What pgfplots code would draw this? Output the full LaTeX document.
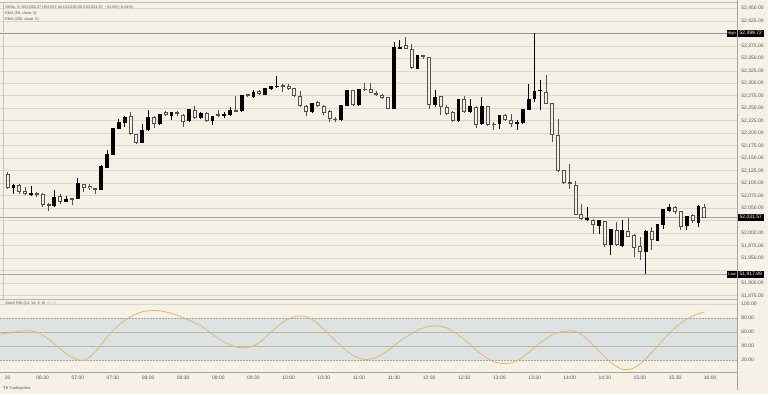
\documentclass[border=0pt]{standalone}
\usepackage{fontspec}
\setmainfont{Liberation Sans}
\usepackage{pgfplots}
\pgfplotsset{compat=1.18}
\usepackage{pgfplotstable}
\definecolor{bg}{HTML}{F5F1E6}
\definecolor{gridc}{HTML}{DDD7CA}
\definecolor{bear}{HTML}{505050}
\definecolor{band}{HTML}{DDE3E2}
\definecolor{rsic}{HTML}{E3B56C}
\definecolor{txt}{HTML}{555555}
\definecolor{frame}{HTML}{A8A49A}

% rising candles (close >= open), drawn filled black
\pgfplotstableread{
i o h l c
1 52091 52098 52079 52096
4 52077 52094 52075 52080
8 52054 52087 52053 52071
10 52063 52075 52062 52068
12 52069 52111 52068 52099
16 52087 52136 52086 52133
17 52131 52166 52130 52157
18 52157 52211 52156 52209
19 52209 52229 52208 52221
20 52221 52234 52213 52231
23 52181 52219 52180 52205
24 52206 52247 52205 52231
26 52218 52239 52217 52238
28 52235 52243 52226 52241
31 52225 52249 52223 52247
33 52231 52242 52229 52239
35 52225 52235 52216 52234
37 52234 52243 52230 52237
38 52236 52253 52235 52246
40 52244 52277 52243 52276
42 52273 52286 52271 52281
44 52277 52291 52276 52289
45 52289 52295 52287 52293
46 52292 52315 52290 52294
52 52243 52261 52241 52259
57 52226 52257 52225 52256
58 52255 52287 52254 52286
60 52256 52288 52254 52287
66 52249 52383 52248 52371
67 52369 52386 52368 52371
70 52329 52356 52328 52355
73 52256 52286 52253 52271
77 52225 52269 52223 52268
79 52243 52268 52241 52253
81 52218 52273 52217 52253
84 52219 52237 52209 52236
87 52219 52227 52206 52222
88 52221 52248 52219 52247
89 52247 52299 52246 52267
90 52268 52399.72 52263 52284
91 52284 52306 52247 52286
99 52026 52053 52025 52029
101 52015 52026 51999 52025
103 51976 52009 51956 52007
105 51975 52026 51973 52006
109 51963 52006 51917.89 52004
111 51985 52019 51984 52018
112 52017 52049 52009 52047
113 52045 52059 52042 52051
116 52014 52035 52006 52033
118 52021 52056 52013 52052.65
}\bull

% falling candles (close < open), drawn hollow
\pgfplotstableread{
i o h l c
0 52118 52123 52089 52091
2 52095 52098 52079 52083
3 52084 52093 52077 52078
5 52079 52083 52073 52077
6 52077 52081 52053 52056
7 52057 52061 52045 52055
9 52073 52079 52059 52063
11 52069 52070 52056 52067
13 52098 52099 52083 52091
14 52094 52098 52086 52090
15 52089 52091 52078 52087
21 52234 52243 52197 52198
22 52197 52199 52179 52181
25 52231 52235 52211 52218
27 52241 52245 52234 52236
29 52241 52245 52235 52239
30 52236 52239 52213 52223
32 52246 52254 52229 52231
34 52239 52242 52223 52225
36 52237 52246 52233 52235
39 52245 52274 52242 52243
41 52277 52279 52273 52275
43 52283 52287 52276 52278
47 52296 52299 52283 52293
48 52294 52299 52286 52288
49 52289 52291 52273 52274
50 52274 52285 52253 52254
51 52254 52256 52234 52243
53 52261 52265 52252 52254
54 52254 52257 52236 52241
55 52243 52246 52223 52229
56 52228 52233 52223 52226
59 52286 52287 52254 52256
61 52288 52301 52284 52286
62 52288 52300 52280 52281
63 52280 52284 52275 52277
64 52276 52279 52269 52271
65 52271 52273 52248 52249
68 52375 52393 52368 52369
69 52368 52379 52329 52331
71 52355 52357 52349 52352
72 52351 52353 52248 52256
74 52273 52275 52236 52253
75 52251 52256 52236 52239
76 52242 52245 52222 52225
78 52268 52275 52241 52243
80 52251 52254 52211 52216
82 52253 52255 52215 52216
83 52218 52223 52206 52216
85 52236 52239 52224 52226
86 52226 52239 52213 52219
92 52281 52317 52258 52259
93 52259 52261 52183 52196
94 52196 52229 52123 52125
95 52125 52127 52099 52101
96 52101 52139 52089 52099
97 52095 52104 52036 52037
98 52037 52059 52026 52028
100 52026 52028 51999 52016
102 52023 52025 51973 51976
104 52006 52023 51974 51976
106 52004 52031 51992 51993
107 51996 51998 51953 51971
108 51973 51993 51946 51963
110 52004 52013 51966 51987
114 52051 52054 52039 52043
115 52043 52045 52006 52013
117 52035 52039 52021 52025
119 52052.27 52057.44 52030.20 52031.57
}\bear

\pgfplotsset{
  panel/.style={
    scale only axis, width=737pt,
    xmin=-1.246, xmax=124.58,
    axis line style={draw=none},
    major tick length=0pt,
    yticklabel pos=right,
    scaled y ticks=false,
    tick label style={font=\fontsize{5}{6}\selectfont, text=txt},
    yticklabel style={anchor=west, xshift=0.8pt,
      /pgf/number format/fixed, /pgf/number format/fixed zerofill,
      /pgf/number format/precision=2, /pgf/number format/1000 sep={,}},
    /pgf/number format/assume math mode=true,
    clip mode=individual,
  },
  vbar/.style 2 args={draw=none, mark=none, forget plot,
    error bars/.cd, y dir=plus, y explicit, error mark=none,
    error bar style={line width=#2, draw=#1, solid, line cap=butt},
    /pgfplots/.cd},
}

\begin{document}
\begin{tikzpicture}[x=1pt,y=1pt]
\fill[bg] (0,-95) rectangle (768,299);

% ---------- price panel ----------
\begin{axis}[panel, name=main, height=299pt,
  ymin=51868, ymax=52466,
  xtick=\empty,
  ytick={51875,51900,51950,51975,52000,52050,52075,52100,52125,52150,52175,52200,52225,52250,52275,52300,52325,52350,52375,52425,52450},
  extra y ticks={51925,52025,52400}, extra y tick labels={},
  extra y tick style={grid=major},
  ymajorgrids, grid style={gridc, line width=0.45pt},
]
% reference lines: high, last, low
\addplot[frame!90!black, line width=0.5pt, forget plot] coordinates {(-1.246,52399.72) (124.58,52399.72)};
\addplot[frame, line width=0.5pt, forget plot] coordinates {(-1.246,52031.57) (124.58,52031.57)};
\addplot[frame, line width=0.5pt, forget plot] coordinates {(-1.246,51917.89) (124.58,51917.89)};

% wicks
\addplot[vbar={black}{0.8pt}]
  table[x=i, y=l, y error expr=\thisrow{h}-\thisrow{l}] {\bull};
\addplot[vbar={bear}{0.85pt}]
  table[x=i, y=l, y error expr=\thisrow{h}-\thisrow{l}] {\bear};
% rising bodies (filled)
\addplot[vbar={black}{3.8pt}]
  table[x=i, y=o, y error expr={\thisrow{c}-\thisrow{o}+1}] {\bull};
% falling bodies (hollow)
\addplot[vbar={bear}{4pt}]
  table[x=i, y expr={\thisrow{c}-0.5}, y error expr={\thisrow{o}-\thisrow{c}+1}] {\bear};
\addplot[vbar={bg}{2pt}]
  table[x=i, y expr={\thisrow{c}+1.5}, y error expr={max(\thisrow{o}-\thisrow{c}-3,0)}] {\bear};

% price tags
\node[fill=black, text=white, font=\fontsize{5}{6}\selectfont, inner xsep=2.4pt, inner ysep=1.4pt, anchor=west] at (axis cs:124.58,52399.72) {52,399.72};
\node[fill=black, text=white, font=\fontsize{4}{5}\selectfont, inner xsep=1pt, inner ysep=1.9pt, anchor=east] at (axis cs:124.58,52399.72) {High};
\node[fill=black, text=white, font=\fontsize{5}{6}\selectfont, inner xsep=2.4pt, inner ysep=1.4pt, anchor=west] at (axis cs:124.58,52031.57) {52,031.57};
\node[fill=black, text=white, font=\fontsize{5}{6}\selectfont, inner xsep=2.4pt, inner ysep=1.4pt, anchor=west] at (axis cs:124.58,51917.89) {51,917.89};
\node[fill=black, text=white, font=\fontsize{4}{5}\selectfont, inner xsep=1pt, inner ysep=1.9pt, anchor=east] at (axis cs:124.58,51917.89) {Low};
\end{axis}

% ---------- Stoch RSI panel ----------
\begin{axis}[panel, at={(0pt,-74pt)}, anchor=south west, height=73pt,
  ymin=1.43, ymax=105.7,
  ytick={20,40,60,80,100},
  xtick={0,6,...,120},
  xticklabels={20,06:30,07:00,07:30,08:00,08:30,09:00,09:30,10:00,10:30,11:00,11:30,12:00,12:30,13:00,13:30,14:00,14:30,15:00,15:30,16:00},
  xticklabel style={yshift=0.3pt},
]
\addplot[fill=band, draw=none, forget plot] coordinates {(-1.246,20) (124.58,20) (124.58,80) (-1.246,80) (-1.246,20)};
\addplot[gridc, line width=0.45pt, forget plot] coordinates {(-1.246,100) (124.58,100)};
\addplot[gridc!85!black, line width=0.4pt, forget plot] coordinates {(-1.246,60) (124.58,60)};
\addplot[gridc!85!black, line width=0.4pt, forget plot] coordinates {(-1.246,40) (124.58,40)};
\addplot[frame, line width=0.45pt, dash pattern=on 2pt off 1pt, forget plot] coordinates {(-1.246,80) (124.58,80)};
\addplot[frame, line width=0.45pt, dash pattern=on 2pt off 1pt, forget plot] coordinates {(-1.246,20) (124.58,20)};
\addplot[rsic, line width=0.8pt, smooth, tension=0.6] coordinates {
(-1.2,57) (1,60) (3,62) (5,60) (7,50) (9,36) (11,24) (13,20) (15,32) (17,53)
(19,70) (21,82) (23,89) (25,91) (27,89) (29,84) (31,77) (33,69) (35,57) (37,46)
(39,39) (41,38) (43,45) (45,60) (47,74) (49,82) (51,82) (53,72) (55,56) (57,40)
(59,27) (61,21) (63,24) (65,34) (67,47) (69,58) (71,66) (73,69) (75,66) (77,56)
(79,42) (81,28) (83,18) (85,15) (87,19) (89,31) (91,45) (93,56) (95,61) (97,61)
(99,50) (101,33) (103,17) (105,7) (107,9) (109,22) (111,40) (113,58) (115,73)
(117,83) (119,89)};
\end{axis}

% ---------- frame lines and texts ----------
\begin{scope}[yshift=-95pt]
\draw[frame!70!bg, line width=0.5pt] (0,391.5) -- (737.5,391.5);
\draw[frame!80!bg, line width=0.5pt] (0,94.5) -- (737.5,94.5);
\draw[frame, line width=0.5pt] (0,21.5) -- (737.5,21.5);
\draw[frame, line width=0.5pt] (737.5,394) -- (737.5,4);
\draw[frame!60!bg, line width=0.4pt] (3.2,391.5) -- (3.2,95);

\node[anchor=west, font=\fontsize{3.8}{4.5}\selectfont, text=txt, inner sep=0] at (5,387) {SXAL, 5\ \ O52,052.27\ H52,057.44\ L52,030.20\ C52,031.57\ \ −21.08 (−0.04\%)};
\node[anchor=west, font=\fontsize{3.8}{4.5}\selectfont, text=txt, inner sep=0] at (5,381) {EMA (50, close, 0)};
\node[anchor=west, font=\fontsize{3.8}{4.5}\selectfont, text=txt, inner sep=0] at (5,375) {EMA (200, close, 0)};
\node[anchor=west, font=\fontsize{3.8}{4.5}\selectfont, text=txt, inner sep=0] at (5,90.7) {Stoch RSI (14, 14, 8, 8)\ \ \textcolor{rsic}{88.42}};
\node[anchor=west, font=\fontsize{3.8}{4.5}\selectfont, text=txt, inner sep=0] at (3,6) {\textbf{TV} TradingView};
\end{scope}
\end{tikzpicture}
\end{document}
